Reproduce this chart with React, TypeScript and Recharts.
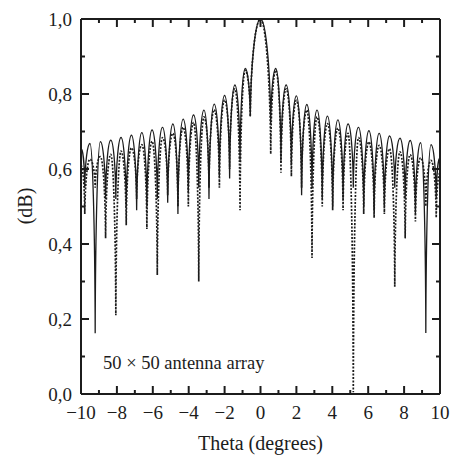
import { LineChart, Line, XAxis, YAxis, ReferenceLine } from "recharts";

// lobe tops and nulls (x in degrees)
const theta = [
  -10, -9.79, -9.5, -9.21, -8.92, -8.63, -8.34, -8.06, -7.77, -7.48, -7.19, -6.9,
  -6.61, -6.33, -6.04, -5.75, -5.46, -5.17, -4.88, -4.6, -4.31, -4.02, -3.73, -3.44,
  -3.15, -2.87, -2.58, -2.29, -2.0, -1.72, -1.43, -1.14, -0.85, -0.57, 0, 0.57, 0.85,
  1.14, 1.43, 1.72, 2.0, 2.29, 2.58, 2.87, 3.15, 3.44, 3.73, 4.02, 4.31, 4.6, 4.88,
  5.17, 5.46, 5.75, 6.04, 6.33, 6.61, 6.9, 7.19, 7.48, 7.77, 8.06, 8.34, 8.63, 8.92,
  9.21, 9.5, 9.79, 10,
];

const solidDb = [
  0.655, 0.55, 0.668, 0.162, 0.673, 0.52, 0.677, 0.52, 0.684, 0.5, 0.69, 0.49,
  0.697, 0.5, 0.704, 0.52, 0.711, 0.51, 0.72, 0.48, 0.733, 0.54, 0.744, 0.55,
  0.757, 0.52, 0.773, 0.58, 0.796, 0.575, 0.824, 0.62, 0.868, 0.74, 1.0, 0.72, 0.868,
  0.62, 0.824, 0.61, 0.795, 0.53, 0.772, 0.55, 0.757, 0.52, 0.741, 0.5, 0.731, 0.52, 0.72,
  0.55, 0.711, 0.5, 0.702, 0.49, 0.695, 0.5, 0.688, 0.55, 0.682, 0.52, 0.676, 0.48, 0.67,
  0.163, 0.665, 0.52, 0.63,
];

const dottedDb = [
  0.61, 0.48, 0.626, 0.55, 0.633, 0.415, 0.639, 0.21, 0.648, 0.45, 0.656, 0.52,
  0.665, 0.44, 0.674, 0.317, 0.684, 0.53, 0.695, 0.5, 0.711, 0.5, 0.724, 0.3,
  0.739, 0.55, 0.758, 0.55, 0.784, 0.6, 0.814, 0.49, 0.863, 0.74, 1.0, 0.64, 0.863,
  0.59, 0.814, 0.58, 0.783, 0.55, 0.757, 0.363, 0.739, 0.5, 0.721, 0.49, 0.709, 0.49, 0.695,
  0.005, 0.684, 0.48, 0.672, 0.47, 0.663, 0.48, 0.654, 0.286, 0.646, 0.415, 0.638, 0.46, 0.63,
  0.5, 0.623, 0.47, 0.59,
];

const xTicks = [-10, -9, -8, -7, -6, -5, -4, -3, -2, -1, 0, 1, 2, 3, 4, 5, 6, 7, 8, 9, 10];
const yTicks = [0, 0.1, 0.2, 0.3, 0.4, 0.5, 0.6, 0.7, 0.8, 0.9, 1.0];

const data = theta.map((t, i) => ({ theta: t, solid: solidDb[i], dotted: dottedDb[i] }));

const INK = "#1c1c1c";
const FONT = "'Liberation Serif', 'DejaVu Serif', serif";

const W = 454;
const H = 461;
const margin = { top: 19, right: 14, bottom: 7, left: 21 };
const Y_AXIS_W = 60;
const X_AXIS_H = 60;
const PLOT_W = W - margin.left - margin.right - Y_AXIS_W;
const PLOT_H = H - margin.top - margin.bottom - X_AXIS_H;

const fmtX = (v: number) => (v < 0 ? `\u2212${-v}` : `${v}`);
const fmtY = (v: number) => v.toFixed(1).replace(".", ",");
const majorX = (v: number) => Math.abs(v) % 2 === 0;
const majorY = (v: number) => Math.round(v * 10) % 2 === 0;

// joins the points with cusps at the nulls and round tops on the lobes
const lobeCurve = (ctx: any) => {
  let pts: number[][] = [];
  return {
    areaStart() {},
    areaEnd() {},
    lineStart() {
      pts = [];
    },
    point(x: number, y: number) {
      pts.push([x, y]);
    },
    lineEnd() {
      if (!pts.length) return;
      ctx.moveTo(pts[0][0], pts[0][1]);
      for (let i = 1; i < pts.length; i++) {
        const [x0, y0] = pts[i - 1];
        const [x1, y1] = pts[i];
        const dx = x1 - x0;
        const dy = y1 - y0;
        if (dy > 0) {
          ctx.bezierCurveTo(x0 + 0.45 * dx, y0, x1 - 0.06 * dx, y1 - 0.6 * dy, x1, y1);
        } else {
          ctx.bezierCurveTo(x0 + 0.06 * dx, y0 + 0.6 * dy, x1 - 0.45 * dx, y1, x1, y1);
        }
      }
    },
  };
};

// inward ticks on bottom, mirrored on the top frame
const XTick = ({ x, y, payload }: any) => {
  const major = majorX(payload.value);
  const len = major ? 8 : 4;
  const top = y - PLOT_H;
  return (
    <g>
      <line x1={x} x2={x} y1={y} y2={y - len} stroke={INK} strokeWidth={2} />
      <line x1={x} x2={x} y1={top} y2={top + len} stroke={INK} strokeWidth={2} />
      {major && (
        <text x={x} y={y + 25} textAnchor="middle" fontFamily={FONT} fontSize={19} fill={INK}>
          {fmtX(payload.value)}
        </text>
      )}
    </g>
  );
};

// inward ticks on the left, mirrored on the right frame
const YTick = ({ x, y, payload }: any) => {
  const major = majorY(payload.value);
  const len = major ? 8 : 4;
  const right = x + PLOT_W;
  return (
    <g>
      <line x1={x} x2={x + len} y1={y} y2={y} stroke={INK} strokeWidth={2} />
      <line x1={right} x2={right - len} y1={y} y2={y} stroke={INK} strokeWidth={2} />
      {major && (
        <text x={x - 9} y={y + 6.5} textAnchor="end" fontFamily={FONT} fontSize={19} fill={INK}>
          {fmtY(payload.value)}
        </text>
      )}
    </g>
  );
};

const axisLine = { stroke: INK, strokeWidth: 2 };

export default function App() {
  return (
    <div style={{ position: "absolute", left: 0, top: 0, background: "#fff" }}>
      <LineChart width={W} height={H} data={data} margin={margin}>
        <XAxis
          dataKey="theta"
          type="number"
          domain={[-10, 10]}
          ticks={xTicks}
          interval={0}
          height={X_AXIS_H}
          tickSize={0}
          tickMargin={0}
          tickLine={false}
          axisLine={axisLine}
          tick={<XTick />}
        />
        <YAxis
          type="number"
          domain={[0, 1]}
          ticks={yTicks}
          interval={0}
          width={Y_AXIS_W}
          tickSize={0}
          tickMargin={0}
          tickLine={false}
          axisLine={axisLine}
          tick={<YTick />}
        />
        <ReferenceLine y={1} stroke={INK} strokeWidth={2} />
        <ReferenceLine x={10} stroke={INK} strokeWidth={2} />
        <Line
          dataKey="dotted"
          type={lobeCurve as any}
          stroke={INK}
          strokeWidth={1.7}
          strokeDasharray="2 1.5"
          dot={false}
          isAnimationActive={false}
        />
        <Line
          dataKey="solid"
          type={lobeCurve as any}
          stroke={INK}
          strokeWidth={1.3}
          dot={false}
          isAnimationActive={false}
        />
        <text
          x={25}
          y={206}
          transform="rotate(-90 25 206)"
          textAnchor="middle"
          dominantBaseline="central"
          fontFamily={FONT}
          fontSize={20}
          fill={INK}
        >
          (dB)
        </text>
        <text x={260.5} y={450} textAnchor="middle" fontFamily={FONT} fontSize={20} fill={INK}>
          Theta (degrees)
        </text>
        <text x={103} y={369} fontFamily={FONT} fontSize={18.5} fill={INK}>
          50 × 50 antenna array
        </text>
      </LineChart>
    </div>
  );
}
